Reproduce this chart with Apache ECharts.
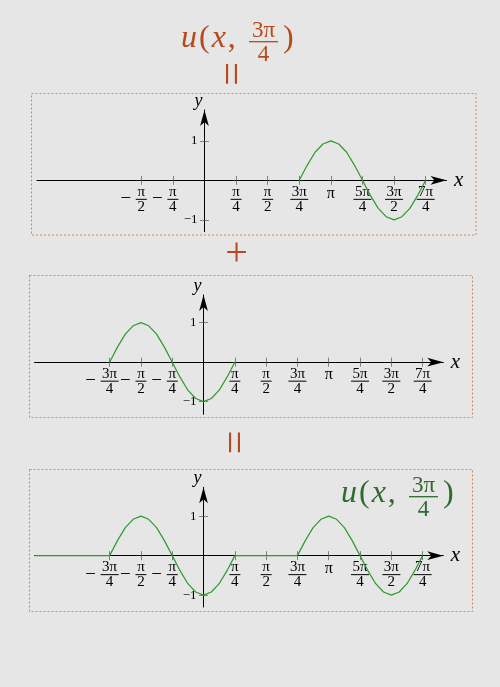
<!DOCTYPE html>
<html><head><meta charset="utf-8">
<script src="https://cdn.jsdelivr.net/npm/echarts@6/dist/echarts.min.js"></script>
<style>html,body{margin:0;padding:0;background:#e6e6e6;}#c{width:500px;height:687px;}</style>
</head><body><div id="c"></div>
<script>
// x values are in units of π/4
const tickValues = [-3, -2, -1, 1, 2, 3, 4, 5, 6, 7];
const tickNums   = ['3π', 'π', 'π', 'π', 'π', '3π', 'π', '5π', '3π', '7π'];
const tickDens   = ['4', '2', '4', '4', '2', '4', '', '4', '2', '4'];
const panel1Ticks = [-2, -1, 1, 2, 3, 4, 5, 6, 7];
const panel2Ticks = [-3, -2, -1, 1, 2, 3, 4, 5, 6, 7];
const panel3Ticks = [-3, -2, -1, 1, 2, 3, 4, 5, 6, 7];
// labels split over two stacked axes so that neighbouring wide labels are never auto-hidden
const panel1AltLabels = [-1];
const panel2AltLabels = [-2];
const panel3AltLabels = [-2];
const yTickValues = [-1, 1];
const yTickLabels = ['−1', '1'];

// top panel: wave between 3π/4 and 7π/4
const wave1X = [3, 3.25, 3.5, 3.75, 4, 4.25, 4.5, 4.75, 5, 5.25, 5.5, 5.75, 6, 6.25, 6.5, 6.75, 7];
const wave1Y = [0, 0.38, 0.71, 0.92, 1, 0.92, 0.71, 0.38, 0, -0.38, -0.71, -0.92, -1, -0.92, -0.71, -0.38, 0];
// middle panel: wave between -3π/4 and π/4
const wave2X = [-3, -2.75, -2.5, -2.25, -2, -1.75, -1.5, -1.25, -1, -0.75, -0.5, -0.25, 0, 0.25, 0.5, 0.75, 1];
const wave2Y = [0, 0.38, 0.71, 0.92, 1, 0.92, 0.71, 0.38, 0, -0.38, -0.71, -0.92, -1, -0.92, -0.71, -0.38, 0];
// bottom panel: flat start, then both waves
const leadX = [-5.4];
const leadY = [0];

const FONT = "'Liberation Serif', 'DejaVu Serif', serif";
const GREEN = '#2c9a2c';
const GREEN_DARK = '#2f6b2f';
const ORANGE = '#b54a1c';
const FRAME = '#cf8857';

const zip = (xs, ys) => xs.map((x, i) => [x, ys[i]]);
const panel1Data = zip(wave1X, wave1Y);
const panel2Data = zip(wave2X, wave2Y);
const panel3Data = zip(leadX, leadY).concat(zip(wave2X, wave2Y), zip(wave1X, wave1Y));

const tickRich = {
  numN: {width: 11, align: 'center', fontSize: 15, lineHeight: 12, fontFamily: FONT, color: '#000'},
  numW: {width: 18, align: 'center', fontSize: 15, lineHeight: 12, fontFamily: FONT, color: '#000'},
  barN: {width: 11, height: 1, lineHeight: 3, backgroundColor: '#000'},
  barW: {width: 18, height: 1, lineHeight: 3, backgroundColor: '#000'},
  denN: {width: 11, align: 'center', fontSize: 15, lineHeight: 12, fontFamily: FONT, color: '#000'},
  denW: {width: 18, align: 'center', fontSize: 15, lineHeight: 12, fontFamily: FONT, color: '#000'},
  pi: {fontSize: 16, lineHeight: 15, fontFamily: FONT, color: '#000'},
  sp: {width: 17, lineHeight: 12},
  spB: {width: 17, height: 1, lineHeight: 3},
  gp: {width: 3, height: 1, lineHeight: 3},
  minus: {width: 14, align: 'center', fontSize: 19, lineHeight: 3, fontFamily: FONT, color: '#000'}
};

function tickFormatter(v) {
  const i = tickValues.indexOf(v);
  if (i < 0) return '';
  const num = tickNums[i], den = tickDens[i];
  if (den === '') return '{pi|' + num + '}';
  const w = num.length > 1 ? 'W' : 'N';
  if (v > 0) return '{num' + w + '|' + num + '}\n{bar' + w + '|}\n{den' + w + '|' + den + '}';
  return '{sp|}{num' + w + '|' + num + '}{sp|}\n{minus|−}{gp|}{bar' + w + '|}{spB|}\n{sp|}{den' + w + '|' + den + '}{sp|}';
}

const panels = [
  {left: 37, width: 409.5, top: 110, height: 121.7, xMin: -5.3, xMax: 7.66, yMin: -1.30, yMax: 1.78, ticks: panel1Ticks, alt: panel1AltLabels, data: panel1Data},
  {left: 34.5, width: 408.8, top: 295, height: 119.3, xMin: -5.4, xMax: 7.66, yMin: -1.32, yMax: 1.70, ticks: panel2Ticks, alt: panel2AltLabels, data: panel2Data},
  {left: 34.5, width: 408.8, top: 487.3, height: 119.7, xMin: -5.4, xMax: 7.66, yMin: -1.30, yMax: 1.73, ticks: panel3Ticks, alt: panel3AltLabels, data: panel3Data}
];

const grid = [], xAxis = [], yAxis = [], series = [];
panels.forEach((p, k) => {
  grid.push({left: p.left, top: p.top, width: p.width, height: p.height, outerBoundsMode: 'none', containLabel: false});
  const xi = 2 * k, yi = 2 * k;
  // labels of an on-zero axis are laid out from the grid edge, so pull them back to the zero line
  const zeroY = p.top + p.yMax / (p.yMax - p.yMin) * p.height;
  const zeroX = p.left + (-p.xMin) / (p.xMax - p.xMin) * p.width;
  const xLabelMargin = 5.5 - (p.top + p.height - zeroY);
  const yLabelMargin = 7 - (zeroX - p.left);
  const mainLabels = p.ticks.filter(v => p.alt.indexOf(v) < 0);
  const labelCommon = {show: true, formatter: tickFormatter, rich: tickRich, margin: xLabelMargin,
      hideOverlap: false, showMinLabel: true, showMaxLabel: true};
  xAxis.push({
    gridIndex: k, type: 'value', min: p.xMin, max: p.xMax, position: 'bottom',
    axisLine: {onZero: true, onZeroAxisIndex: yi, symbol: ['none', 'arrow'], symbolSize: [6.5, 16], lineStyle: {color: '#000', width: 1}},
    axisTick: {show: true, inside: true, length: 4.5, customValues: p.ticks, lineStyle: {color: '#666', width: 0.8}},
    axisLabel: Object.assign({customValues: mainLabels}, labelCommon),
    splitLine: {show: false},
    name: 'x', nameLocation: 'end', nameGap: 7.5, nameMoveOverlap: false,
    nameTextStyle: {fontFamily: FONT, fontStyle: 'italic', fontSize: 21, color: '#000', align: 'left', verticalAlign: 'middle'}
  });
  xAxis.push({
    gridIndex: k, type: 'value', min: p.xMin, max: p.xMax, position: 'bottom',
    axisLine: {show: false, onZero: true, onZeroAxisIndex: yi},
    axisTick: {show: true, inside: false, length: 4.5, customValues: p.ticks, lineStyle: {color: '#666', width: 0.8}},
    axisLabel: Object.assign({customValues: p.alt}, labelCommon),
    splitLine: {show: false}
  });
  yAxis.push({
    gridIndex: k, type: 'value', min: p.yMin, max: p.yMax, position: 'left',
    axisLine: {onZero: true, onZeroAxisIndex: xi, symbol: ['none', 'arrow'], symbolSize: [6.5, 16], lineStyle: {color: '#000', width: 1}},
    axisTick: {show: true, inside: true, length: 4.5, customValues: yTickValues, lineStyle: {color: '#666', width: 0.8}},
    axisLabel: {show: true, customValues: yTickValues, margin: yLabelMargin, fontFamily: FONT, fontSize: 13, color: '#000',
      showMinLabel: true, showMaxLabel: true, hideOverlap: false,
      formatter: v => yTickLabels[yTickValues.indexOf(v)]},
    splitLine: {show: false},
    name: 'y', nameLocation: 'end', nameGap: 0, nameMoveOverlap: false,
    nameTextStyle: {fontFamily: FONT, fontStyle: 'italic', fontSize: 18, color: '#000', padding: [0, 12, 0, 0]}
  });
  yAxis.push({
    gridIndex: k, type: 'value', min: p.yMin, max: p.yMax, position: 'left',
    axisLine: {show: false, onZero: true, onZeroAxisIndex: xi},
    axisTick: {show: true, inside: false, length: 4.5, customValues: yTickValues, lineStyle: {color: '#666', width: 0.8}},
    axisLabel: {show: false}, splitLine: {show: false}
  });
  series.push({
    type: 'line', xAxisIndex: xi, yAxisIndex: yi, data: p.data, showSymbol: false, symbol: 'none',
    lineStyle: {color: GREEN, width: 1.2}, silent: true, z: 5
  });
});

function uLabel(x0, barY, color) {
  const base = {fontFamily: FONT, fontSize: 32, fill: color};
  return [
    {type: 'text', x: x0, y: barY - 2.7, silent: true, style: {
      text: '{i|u}{r|(}{i|x}{r|,}', align: 'left', verticalAlign: 'middle', fill: color, font: '32px ' + FONT,
      rich: {
        i: Object.assign({fontStyle: 'italic', padding: [0, 1, 0, 1]}, base),
        r: Object.assign({padding: [0, 1, 0, 1]}, base)
      }}},
    {type: 'text', x: x0 + 83.5, y: barY - 19, silent: true, style: {
      text: '{n|3π}\n{b|}\n{d|4}', align: 'center', verticalAlign: 'top', fill: color,
      rich: {
        n: {fontFamily: FONT, fontSize: 23, lineHeight: 17, fill: color, width: 29, align: 'center'},
        b: {width: 29, height: 1.3, lineHeight: 4, backgroundColor: color},
        d: {fontFamily: FONT, fontSize: 23, lineHeight: 22, fill: color, width: 29, align: 'center'}
      }}},
    {type: 'text', x: x0 + 103, y: barY - 2.7, silent: true, style: {
      text: ')', align: 'left', verticalAlign: 'middle', fill: color, font: '32px ' + FONT}}
  ];
}

const graphic = [
  {type: 'rect', silent: true, shape: {x: 31.5, y: 93.5, width: 444.5, height: 141.5}, style: {fill: 'none', stroke: FRAME, lineWidth: 1, lineDash: [2, 2]}},
  {type: 'rect', silent: true, shape: {x: 29.5, y: 275.5, width: 443, height: 142}, style: {fill: 'none', stroke: FRAME, lineWidth: 1, lineDash: [2, 2]}},
  {type: 'rect', silent: true, shape: {x: 29.5, y: 469.5, width: 443, height: 142}, style: {fill: 'none', stroke: FRAME, lineWidth: 1, lineDash: [2, 2]}},
  {type: 'text', x: 234, y: 74, rotation: Math.PI / 2, silent: true, style: {text: '=', align: 'center', verticalAlign: 'middle', fill: ORANGE, font: '42px ' + FONT}},
  {type: 'text', x: 236.5, y: 254.5, silent: true, style: {text: '+', align: 'center', verticalAlign: 'middle', fill: ORANGE, font: '40px ' + FONT}},
  {type: 'text', x: 237, y: 442.5, rotation: Math.PI / 2, silent: true, style: {text: '=', align: 'center', verticalAlign: 'middle', fill: ORANGE, font: '42px ' + FONT}}
].concat(uLabel(180, 41.7, ORANGE), uLabel(340, 496.7, GREEN_DARK));

const chart = echarts.init(document.getElementById('c'), null, {renderer: 'canvas'});
chart.setOption({
  backgroundColor: '#e6e6e6',
  animation: false,
  textStyle: {fontFamily: FONT},
  grid: grid, xAxis: xAxis, yAxis: yAxis, series: series, graphic: graphic
});
</script></body></html>
